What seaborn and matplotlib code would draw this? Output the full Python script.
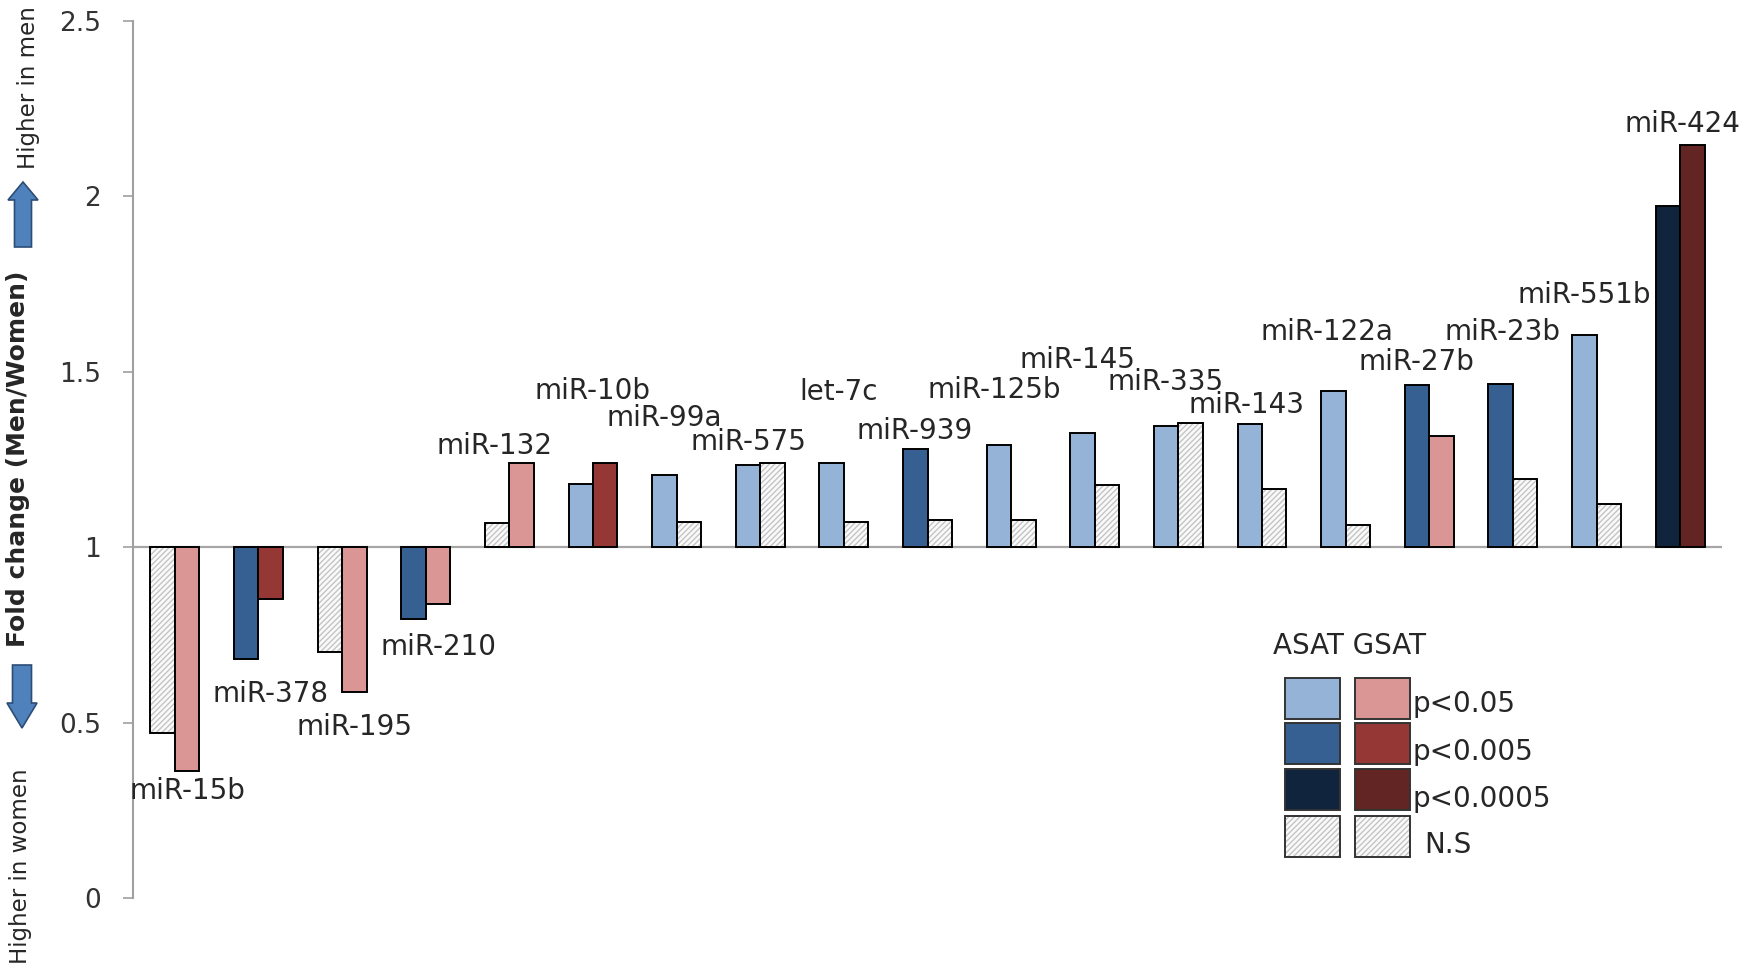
import numpy as np
import pandas as pd
import matplotlib
matplotlib.use("Agg")
import matplotlib.pyplot as plt
from matplotlib.patches import Rectangle, Polygon
import seaborn as sns

# ---- data -------------------------------------------------------------
mirnas = ["miR-15b", "miR-378", "miR-195", "miR-210", "miR-132", "miR-10b",
          "miR-99a", "miR-575", "let-7c", "miR-939", "miR-125b", "miR-145",
          "miR-335", "miR-143", "miR-122a", "miR-27b", "miR-23b", "miR-551b",
          "miR-424"]
asat_fc = [0.47, 0.68, 0.70, 0.795, 1.068, 1.18, 1.207, 1.235, 1.239, 1.281,
           1.292, 1.325, 1.345, 1.35, 1.445, 1.461, 1.466, 1.605, 1.973]
gsat_fc = [0.361, 0.853, 0.586, 0.839, 1.241, 1.239, 1.072, 1.239, 1.072,
           1.078, 1.078, 1.177, 1.355, 1.167, 1.063, 1.318, 1.193, 1.124, 2.146]
asat_sig = ["N.S", "p<0.005", "N.S", "p<0.005", "N.S", "p<0.05", "p<0.05",
            "p<0.05", "p<0.05", "p<0.005", "p<0.05", "p<0.05", "p<0.05",
            "p<0.05", "p<0.05", "p<0.005", "p<0.005", "p<0.05", "p<0.0005"]
gsat_sig = ["p<0.05", "p<0.005", "p<0.05", "p<0.05", "p<0.05", "p<0.005",
            "N.S", "N.S", "N.S", "N.S", "N.S", "N.S", "N.S", "N.S", "N.S",
            "p<0.05", "N.S", "N.S", "p<0.0005"]
tissues = ["ASAT", "GSAT"]
sig_levels = ["p<0.05", "p<0.005", "p<0.0005", "N.S"]
ytick_values = [0, 0.5, 1, 1.5, 2, 2.5]
ytick_labels = ["0", "0.5", "1", "1.5", "2", "2.5"]

# label anchor points (category position, fold change height, alignment)
label_pos = [(0.145, 0.304, "center"), (1.142, 0.582, "center"),
             (2.146, 0.487, "center"), (3.15, 0.715, "center"),
             (3.822, 1.288, "center"), (4.999, 1.446, "center"),
             (5.856, 1.367, "center"), (6.854, 1.301, "center"),
             (7.937, 1.443, "center"), (8.842, 1.332, "center"),
             (9.793, 1.449, "center"), (10.79, 1.535, "center"),
             (11.847, 1.472, "center"), (12.818, 1.405, "center"),
             (13.775, 1.614, "center"), (14.852, 1.528, "center"),
             (15.87, 1.614, "center"), (16.854, 1.718, "center"),
             (18.72, 2.206, "right")]

palette = {
    "ASAT": {"p<0.05": "#95B3D7", "p<0.005": "#366092", "p<0.0005": "#10243E"},
    "GSAT": {"p<0.05": "#DA9694", "p<0.005": "#953735", "p<0.0005": "#632523"},
}
NS_FACE = "#FAFAFA"
NS_HATCH = "#C4C4C4"
TEXT = "#262626"

df = pd.DataFrame({
    "mirna": mirnas * 2,
    "tissue": ["ASAT"] * len(mirnas) + ["GSAT"] * len(mirnas),
    "fold": asat_fc + gsat_fc,
    "sig": asat_sig + gsat_sig,
})
df["delta"] = df["fold"] - 1.0

# ---- figure -----------------------------------------------------------
sns.set_style("white")
plt.rcParams["font.family"] = ["DejaVu Sans"]
plt.rcParams["hatch.linewidth"] = 1.0

W, H = 1744, 965
fig = plt.figure(figsize=(W / 100, H / 100), dpi=100)
ax = fig.add_axes([133 / W, 67 / H, (1722 - 133) / W, (898 - 21) / H])

sns.barplot(data=df, x="mirna", y="delta", hue="tissue", order=mirnas,
            hue_order=tissues, bottom=1, width=0.585, gap=0, dodge=True,
            errorbar=None, legend=False, ax=ax, zorder=2)

# colour each bar by tissue and significance
bars = list(ax.patches)
for patch, tissue, sig in zip(bars, df["tissue"], df["sig"]):
    if sig == "N.S":
        patch.set_facecolor(NS_FACE)
        patch.set_hatch("//////")
        patch.set_edgecolor(NS_HATCH)
        patch.set_linewidth(0)
        ax.add_patch(Rectangle((patch.get_x(), patch.get_y()), patch.get_width(),
                               patch.get_height(), fill=False, edgecolor="black",
                               linewidth=1.4, zorder=3))
    else:
        patch.set_facecolor(palette[tissue][sig])
        patch.set_edgecolor("black")
        patch.set_linewidth(1.4)

ax.axhline(1, color="#A6A6A6", linewidth=1.6, zorder=1)

for name, (lx, ly, al) in zip(mirnas, label_pos):
    ax.text(lx, ly, name, ha=al, va="center", fontsize=20, color=TEXT)

ax.set_xlim(-0.5, len(mirnas) - 0.5)
ax.set_ylim(0, 2.5)
ax.set_xticks([])
ax.set_xlabel("")
ax.set_ylabel("")
ax.set_yticks(ytick_values)
ax.set_yticklabels(ytick_labels)
ax.tick_params(axis="y", left=True, direction="out", length=7, width=1.2,
               color="#A0A0A0", labelsize=19, labelcolor="#333333", pad=16)
for side in ["top", "right", "bottom"]:
    ax.spines[side].set_visible(False)
ax.spines["left"].set_color("#A0A0A0")
ax.spines["left"].set_linewidth(1.5)


def fx(x):
    return x / W


def fy(y):
    return 1 - y / H


# ---- y-axis annotations -----------------------------------------------
fig.text(fx(18), fy(459), "Fold change (Men/Women)", rotation=90, ha="center",
         va="center", fontsize=18, fontweight="bold", color=TEXT)
fig.text(fx(29), fy(88), "Higher in men", rotation=90, ha="center",
         va="center", fontsize=16.5, color=TEXT)
fig.text(fx(21), fy(866), "Higher in women", rotation=90, ha="center",
         va="center", fontsize=16.5, color=TEXT)


def block_arrow(cx, y_tail, y_neck, y_tip, shaft_w, head_w):
    pts = [(cx - shaft_w / 2, y_tail), (cx + shaft_w / 2, y_tail),
           (cx + shaft_w / 2, y_neck), (cx + head_w / 2, y_neck),
           (cx, y_tip), (cx - head_w / 2, y_neck), (cx - shaft_w / 2, y_neck)]
    fig.add_artist(Polygon([(fx(x), fy(y)) for x, y in pts], closed=True,
                           transform=fig.transFigure, facecolor="#4F81BD",
                           edgecolor="#2C4D75", linewidth=1.2))


block_arrow(23, 247, 200, 182, 17, 30)
block_arrow(22, 665, 703, 728, 19, 30)

# ---- legend -----------------------------------------------------------
fig.text(fx(1273), fy(646), "ASAT GSAT", ha="left", va="center",
         fontsize=20, color=TEXT)
row_tops = [678, 723, 769, 816]
col_lefts = {"ASAT": 1285, "GSAT": 1355}
box_w, box_h = 55, 41
for level, top in zip(sig_levels, row_tops):
    for tissue in tissues:
        x0 = col_lefts[tissue]
        if level == "N.S":
            fig.add_artist(Rectangle((fx(x0), fy(top + box_h)), box_w / W, box_h / H,
                                     transform=fig.transFigure, facecolor=NS_FACE,
                                     edgecolor=NS_HATCH, hatch="//////", linewidth=0))
            fig.add_artist(Rectangle((fx(x0), fy(top + box_h)), box_w / W, box_h / H,
                                     transform=fig.transFigure, fill=False,
                                     edgecolor="#333333", linewidth=1.4))
        else:
            fig.add_artist(Rectangle((fx(x0), fy(top + box_h)), box_w / W, box_h / H,
                                     transform=fig.transFigure,
                                     facecolor=palette[tissue][level],
                                     edgecolor="#333333", linewidth=1.4))

legend_text_pos = [(1412, 704), (1412, 752), (1412, 799), (1424, 845)]
for level, (tx, ty) in zip(sig_levels, legend_text_pos):
    fig.text(fx(tx), fy(ty), level, ha="left", va="center", fontsize=20,
             color=TEXT)

fig.savefig("out.png", dpi=100)
